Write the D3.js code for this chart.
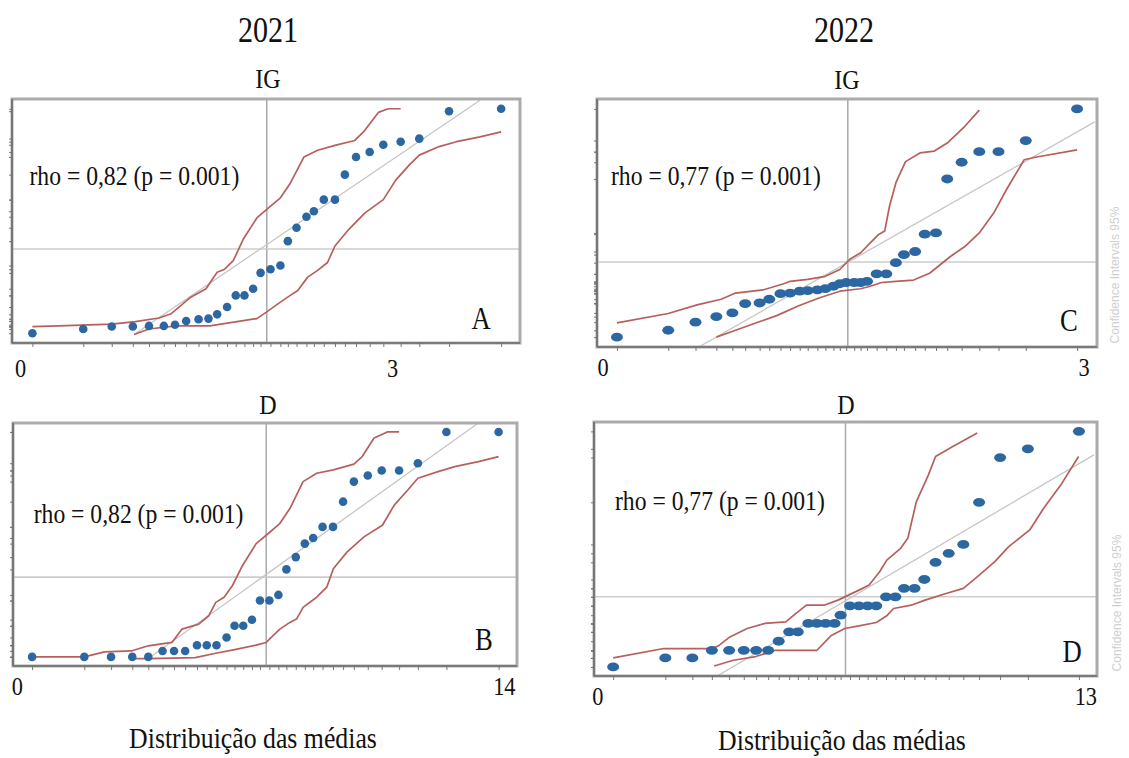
<!DOCTYPE html>
<html lang="pt">
<head>
    <meta charset="UTF-8">
    <title>Distribuição das médias - Q-Q</title>
    <script src="https://d3js.org/d3.v7.min.js"></script>
    <style>
        body { margin: 0; background: #fff; }
        svg text { font-family: "Liberation Serif", "Times New Roman", serif; fill: #111; }
    </style>
</head>
<body>
<script>
    // ---- text ----
    var years = ['2021', '2022'];
    var rho2021 = 'rho = 0,82 (p = 0.001)';
    var rho2022 = 'rho = 0,77 (p = 0.001)';
    var xTitle = 'Distribuição das médias';
    var ciText = 'Confidence Intervals 95%';

    // ---- 2021 IG (A) : [quantile position, sorted value] ----
    var ptsA = [[0.10,0.16],[0.51,0.23],[0.74,0.27],[0.91,0.27],[1.04,0.28],[1.16,0.28],[1.25,0.30],[1.34,0.36],
        [1.44,0.39],[1.52,0.40],[1.59,0.47],[1.67,0.59],[1.74,0.78],[1.81,0.78],[1.88,0.89],[1.94,1.15],
        [2.02,1.21],[2.10,1.27],[2.16,1.67],[2.23,1.89],[2.31,2.07],[2.37,2.16],[2.45,2.35],[2.54,2.35],
        [2.62,2.76],[2.71,3.05],[2.82,3.13],[2.93,3.25],[3.07,3.30],[3.22,3.35],[3.46,3.80],[3.88,3.84]];
    var upA = [[0.10,0.27],[0.31,0.28],[0.74,0.31],[0.93,0.35],[1.12,0.41],[1.22,0.48],[1.37,0.74],[1.50,0.89],
        [1.59,1.16],[1.65,1.21],[1.72,1.35],[1.80,1.70],[1.91,2.05],[1.99,2.19],[2.10,2.38],[2.18,2.62],
        [2.29,3.05],[2.40,3.16],[2.54,3.24],[2.70,3.32],[2.77,3.46],[2.89,3.78],[2.97,3.84],[3.07,3.84]];
    var loA = [[0.92,0.14],[1.04,0.23],[1.26,0.28],[1.53,0.28],[1.75,0.35],[1.91,0.40],[1.99,0.51],[2.10,0.67],
        [2.18,0.78],[2.24,0.86],[2.32,1.08],[2.40,1.19],[2.48,1.32],[2.54,1.59],[2.65,1.86],[2.78,2.13],
        [2.93,2.35],[3.03,2.67],[3.14,2.92],[3.22,3.08],[3.38,3.22],[3.52,3.30],[3.71,3.38],[3.88,3.46]];
    var refA = [[0.92,0.14],[3.71,3.98]];
    var midA = [1.99, 1.54];

    // ---- 2021 D (B) ----
    var ptsB = [[0.44,0.60],[1.94,0.60],[2.71,0.60],[3.32,0.60],[3.78,0.60],[4.19,0.99],[4.52,0.99],[4.84,0.99],
        [5.18,1.37],[5.46,1.37],[5.74,1.37],[6.03,1.88],[6.26,2.65],[6.51,2.65],[6.76,3.05],[6.99,4.31],
        [7.26,4.31],[7.52,4.68],[7.75,6.36],[8.02,7.17],[8.28,8.06],[8.52,8.43],[8.79,9.16],[9.09,9.16],
        [9.38,10.82],[9.69,12.14],[10.09,12.54],[10.49,12.87],[10.99,12.87],[11.53,13.35],[12.35,15.41],[13.85,15.41]];
    var upB = [[0.44,0.60],[1.94,0.60],[2.52,0.93],[3.29,0.99],[3.78,1.33],[4.46,1.55],[4.75,2.43],[5.23,2.76],
        [5.52,3.31],[5.72,4.19],[5.96,4.53],[6.20,5.30],[6.49,6.62],[6.88,8.06],[7.17,8.61],[7.56,9.38],
        [7.85,10.37],[8.23,12.14],[8.62,12.69],[9.10,12.91],[9.69,13.29],[9.93,13.79],[10.27,15.01],[10.65,15.41],[10.99,15.41]];
    var loB = [[3.34,0.49],[3.78,0.49],[5.13,0.55],[5.72,0.84],[6.30,1.10],[6.88,1.37],[7.17,1.55],[7.56,2.43],
        [7.85,2.87],[8.04,3.09],[8.23,3.86],[8.62,4.53],[8.91,5.19],[9.10,6.40],[9.49,7.50],[9.98,8.50],
        [10.51,9.27],[10.85,10.59],[11.24,11.59],[11.53,12.36],[12.11,12.80],[12.59,13.13],[13.27,13.46],[13.85,13.79]];
    var refB = [[3.78,0.49],[13.27,16.0]];
    var midB = [7.17, 5.85];

    // ---- 2022 IG (C) ----
    var ptsC = [[0.09,0.16],[0.41,0.27],[0.58,0.40],[0.71,0.49],[0.81,0.55],[0.89,0.70],[0.98,0.71],[1.04,0.77],
        [1.11,0.86],[1.17,0.87],[1.23,0.90],[1.28,0.91],[1.34,0.92],[1.39,0.94],[1.44,0.98],[1.48,1.02],
        [1.52,1.04],[1.57,1.04],[1.61,1.04],[1.65,1.06],[1.71,1.18],[1.77,1.18],[1.83,1.36],[1.88,1.49],
        [1.95,1.54],[2.01,1.82],[2.08,1.84],[2.15,2.71],[2.24,2.98],[2.35,3.15],[2.47,3.15],[2.64,3.33],[2.96,3.84]];
    var upC = [[0.09,0.39],[0.41,0.54],[0.59,0.68],[0.74,0.77],[0.83,0.87],[1.00,0.92],[1.13,1.02],[1.17,1.06],
        [1.28,1.09],[1.39,1.14],[1.48,1.25],[1.54,1.41],[1.61,1.52],[1.67,1.68],[1.72,1.81],[1.76,1.87],
        [1.79,2.27],[1.83,2.65],[1.89,2.99],[1.98,3.13],[2.07,3.16],[2.15,3.29],[2.26,3.56],[2.35,3.82]];
    var loC = [[0.71,0.16],[0.83,0.27],[0.96,0.39],[1.09,0.51],[1.22,0.66],[1.35,0.79],[1.48,0.90],[1.61,0.94],
        [1.67,0.98],[1.74,1.04],[1.83,1.06],[1.94,1.08],[2.04,1.19],[2.17,1.46],[2.26,1.62],[2.35,1.84],
        [2.44,2.16],[2.52,2.54],[2.63,3.02],[2.70,3.06],[2.96,3.18]];
    var refC = [[0.60,0.0],[3.07,3.63]];
    var midC = [1.53, 1.37];

    // ---- 2022 D (D) ----
    var ptsD = [[0.42,0.57],[1.81,1.14],[2.53,1.14],[3.05,1.62],[3.51,1.62],[3.90,1.62],[4.23,1.62],[4.55,1.62],
        [4.83,2.19],[5.11,2.78],[5.34,2.78],[5.62,3.31],[5.85,3.31],[6.08,3.31],[6.32,3.31],[6.48,3.83],
        [6.73,4.42],[6.97,4.42],[7.20,4.42],[7.43,4.42],[7.69,4.99],[7.94,4.99],[8.17,5.52],[8.45,5.52],
        [8.71,6.08],[9.01,7.16],[9.36,7.73],[9.75,8.29],[10.17,10.94],[10.73,13.76],[11.47,14.31],[12.83,15.41]];
    var upD = [[0.42,1.14],[1.77,1.73],[3.07,1.73],[3.25,1.94],[3.53,2.46],[3.99,2.99],[4.46,3.31],[5.02,3.41],
        [5.29,3.94],[5.57,4.46],[6.04,4.46],[6.41,4.78],[6.97,5.41],[7.24,5.73],[7.52,6.57],[7.71,7.30],
        [8.08,8.04],[8.27,8.67],[8.50,10.99],[8.82,12.67],[9.01,13.83],[9.47,14.46],[10.12,15.30]];
    var loD = [[3.11,0.63],[3.62,0.99],[4.18,1.20],[4.74,1.62],[5.29,1.62],[5.85,1.62],[6.22,2.53],[6.59,2.99],
        [6.97,3.16],[7.43,3.37],[7.71,3.79],[7.89,4.25],[8.36,4.46],[8.73,4.78],[9.29,5.20],[9.75,5.52],
        [10.12,6.25],[10.59,7.20],[10.96,8.15],[11.52,9.20],[11.89,10.57],[12.35,12.04],[12.82,13.83]];
    var refD = [[3.07,-0.17],[13.23,13.93]];
    var midD = [6.61, 4.99];

    var SX = 0.86; // the scan is horizontally squeezed

    var panels = [
        {pts: ptsA, up: upA, lo: loA, ref: refA, mid: midA, ticks: [0, 3], yMax: 4, title: 'IG', letter: 'A', rho: rho2021,
         frame: [12, 99, 520, 343], xr: [20, 392], tickY: 377, titlePos: [268, 88], rhoPos: [29.5, 185], letterPos: [481, 329], dot: [4.3, 4.3], ci: null},
        {pts: ptsC, up: upC, lo: loC, ref: refC, mid: midC, ticks: [0, 3], yMax: 4, title: 'IG', letter: 'C', rho: rho2022,
         frame: [597, 99, 1097, 347], xr: [602.5, 1083.5], tickY: 376, titlePos: [847, 89], rhoPos: [611, 185], letterPos: [1069, 331], dot: [6, 4.4], ci: [1115, 275]},
        {pts: ptsB, up: upB, lo: loB, ref: refB, mid: midB, ticks: [0, 14], yMax: 16, title: 'D', letter: 'B', rho: rho2021,
         frame: [13, 423, 517, 666], xr: [16.8, 503.8], tickY: 695, titlePos: [268, 414], rhoPos: [33.7, 523], letterPos: [484, 650], dot: [4.3, 4.3], ci: null},
        {pts: ptsD, up: upD, lo: loD, ref: refD, mid: midD, ticks: [0, 13], yMax: 16, title: 'D', letter: 'D', rho: rho2022,
         frame: [594, 422, 1097, 676], xr: [597.4, 1085.3], tickY: 705, titlePos: [846, 414], rhoPos: [615, 510], letterPos: [1072, 662], dot: [6, 4.4], ci: [1117, 603]}
    ];

    var svg = d3.select('body').append('svg')
        .attr('width', 1129)
        .attr('height', 758)
        .style('background', '#fff');

    function txt(sel, x, y, s, size, anchor) {
        return sel.append('text')
            .attr('transform', 'translate(' + x + ',' + y + ') scale(' + SX + ',1)')
            .attr('text-anchor', anchor || 'middle')
            .style('font-size', size + 'px')
            .text(s);
    }

    // column titles
    txt(svg, 268, 42, years[0], 35);
    txt(svg, 844, 42, years[1], 35);
    txt(svg, 253, 748, xTitle, 30);
    txt(svg, 842, 750, xTitle, 30);

    panels.forEach(function(p, i) {
        var L = p.frame[0], T = p.frame[1], R = p.frame[2], B = p.frame[3];
        var x = d3.scaleLinear().domain([0, p.ticks[1]]).range(p.xr);
        var y = d3.scaleLinear().domain([0, p.yMax]).range([B, T]);
        var g = svg.append('g');

        g.append('clipPath').attr('id', 'clip' + i)
            .append('rect').attr('x', L).attr('y', T).attr('width', R - L).attr('height', B - T);

        var inner = g.append('g').attr('clip-path', 'url(#clip' + i + ')');

        // mean lines
        inner.append('line')
            .attr('x1', x(p.mid[0])).attr('x2', x(p.mid[0]))
            .attr('y1', T).attr('y2', B)
            .attr('stroke', '#a9a9a9').attr('stroke-width', 1.5);
        inner.append('line')
            .attr('x1', L).attr('x2', R)
            .attr('y1', y(p.mid[1])).attr('y2', y(p.mid[1]))
            .attr('stroke', '#cdcdcd').attr('stroke-width', 1.6);

        var line = d3.line().x(function(d) { return x(d[0]); }).y(function(d) { return y(d[1]); });

        // reference line
        inner.append('path').datum(p.ref).attr('d', line)
            .attr('fill', 'none').attr('stroke', '#c6c6c6').attr('stroke-width', 1.3);

        // confidence bands
        [p.up, p.lo].forEach(function(band) {
            inner.append('path').datum(band).attr('d', line)
                .attr('fill', 'none').attr('stroke', '#b65f5d').attr('stroke-width', 1.7)
                .attr('stroke-linejoin', 'round');
        });

        // points
        inner.selectAll('ellipse').data(p.pts).enter().append('ellipse')
            .attr('cx', function(d) { return x(d[0]); })
            .attr('cy', function(d) { return y(d[1]); })
            .attr('rx', p.dot[0]).attr('ry', p.dot[1])
            .attr('fill', '#2c67a2');

        // frame
        g.append('rect').attr('x', L).attr('y', T).attr('width', R - L).attr('height', B - T)
            .attr('fill', 'none').attr('stroke', '#ababab').attr('stroke-width', 3);

        // rug ticks on the axes
        g.append('g').attr('transform', 'translate(0,' + B + ')')
            .call(d3.axisBottom(x).tickValues(p.pts.map(function(d) { return d[0]; })).tickSize(4).tickFormat(''))
            .call(function(a) { a.select('.domain').remove(); a.selectAll('line').attr('stroke', '#777'); });
        g.append('g').attr('transform', 'translate(' + L + ',0)')
            .call(d3.axisLeft(y).tickValues(p.pts.map(function(d) { return d[1]; })).tickSize(3).tickFormat(''))
            .call(function(a) { a.select('.domain').remove(); a.selectAll('line').attr('stroke', '#777'); });

        g.append('line').attr('x1', L).attr('x2', R).attr('y1', B).attr('y2', B)
            .attr('stroke', '#6a6a6a').attr('stroke-width', 1.6);
        g.append('line').attr('x1', L).attr('x2', L).attr('y1', T).attr('y2', B)
            .attr('stroke', '#6a6a6a').attr('stroke-width', 1.6);

        // tick labels 0 / max
        g.append('g').attr('transform', 'translate(0,' + B + ')')
            .call(d3.axisBottom(x).tickValues(p.ticks).tickSize(0).tickFormat(d3.format('d')))
            .call(function(a) {
                a.select('.domain').remove();
                a.selectAll('text')
                    .attr('y', p.tickY - B).attr('dy', 0)
                    .attr('transform', 'scale(' + SX + ',1)')
                    .attr('fill', '#111')
                    .style('font-size', '26px')
                    .style('font-family', '"Liberation Serif", serif');
            });

        txt(svg, p.titlePos[0], p.titlePos[1], p.title, 28);
        txt(g, p.rhoPos[0], p.rhoPos[1], p.rho, 27.5, 'start');
        txt(g, p.letterPos[0], p.letterPos[1], p.letter, 31);

        if (p.ci) {
            g.append('text')
                .attr('transform', 'translate(' + p.ci[0] + ',' + p.ci[1] + ') rotate(-90)')
                .attr('text-anchor', 'middle')
                .attr('dy', '0.35em')
                .style('font-family', '"Liberation Sans", Arial, sans-serif')
                .style('font-size', '12px')
                .style('fill', '#cfcfcf')
                .text(ciText);
        }
    });
</script>
</body>
</html>
